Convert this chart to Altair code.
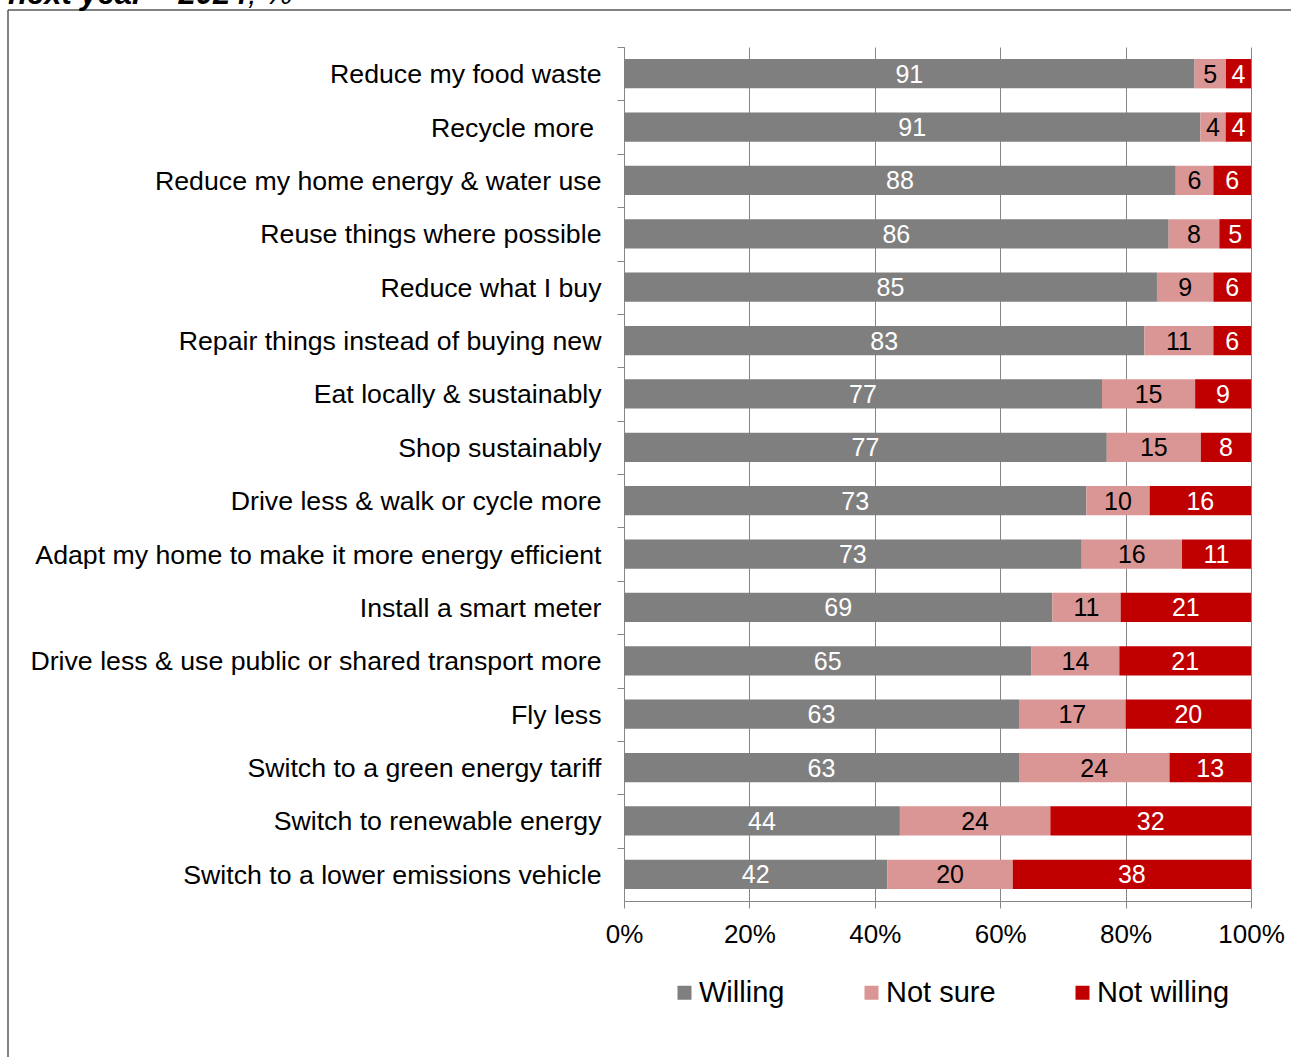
import altair as alt
import pandas as pd

categories = [
    "Reduce my food waste",
    "Recycle more\u00a0\u200b",
    "Reduce my home energy & water use",
    "Reuse things where possible",
    "Reduce what I buy",
    "Repair things instead of buying new",
    "Eat locally & sustainably",
    "Shop sustainably",
    "Drive less & walk or cycle more",
    "Adapt my home to make it more energy efficient",
    "Install a smart meter",
    "Drive less & use public or shared transport more",
    "Fly less",
    "Switch to a green energy tariff",
    "Switch to renewable energy",
    "Switch to a lower emissions vehicle",
]
willing = [91, 91, 88, 86, 85, 83, 77, 77, 73, 73, 69, 65, 63, 63, 44, 42]
not_sure = [5, 4, 6, 8, 9, 11, 15, 15, 10, 16, 11, 14, 17, 24, 24, 20]
not_willing = [4, 4, 6, 5, 6, 6, 9, 8, 16, 11, 21, 21, 20, 13, 32, 38]
series = ["Willing", "Not sure", "Not willing"]
colors = ["#7F7F7F", "#D99694", "#C00000"]
x_ticks = [0, 0.2, 0.4, 0.6, 0.8, 1.0]
title_main = "next year \u2013 2024"
title_tail = ", %"

FONT = "Liberation Sans"
GRID = "#868686"

rows = []
for i, c in enumerate(categories):
    for j, vals in enumerate([willing, not_sure, not_willing]):
        rows.append({"category": c, "series": series[j], "value": vals[i], "order": j})
df = pd.DataFrame(rows)

base = alt.Chart(df).transform_stack(
    stack="value",
    groupby=["category"],
    as_=["x0", "x1"],
    offset="normalize",
    sort=[alt.SortField("order", order="ascending")],
).transform_calculate(mid="(datum.x0 + datum.x1) / 2")

y_scale = alt.Scale(paddingInner=0.45, paddingOuter=0.225)
x_scale = alt.Scale(domain=[0, 1], nice=False)

y_axis = alt.Axis(
    title=None, labelFontSize=26.7, labelColor="black", labelFont=FONT,
    labelLimit=800, labelPadding=16, tickSize=7, tickColor=GRID, tickWidth=1,
    domainColor=GRID, domainWidth=1, grid=False, bandPosition=0,
    tickOffset=-12, labelOffset=13,
)
x_axis = alt.Axis(
    title=None, format=".0%", values=x_ticks, labelFontSize=26, labelColor="black",
    labelFont=FONT, labelFlush=False, labelOverlap=False, tickSize=7,
    tickColor=GRID, tickWidth=1, domainColor=GRID, domainWidth=1,
    grid=True, gridColor=GRID, gridWidth=1, labelPadding=13,
)

bars = base.mark_bar().encode(
    y=alt.Y("category:N", sort=categories, scale=y_scale, axis=y_axis, title=None),
    x=alt.X("x0:Q", scale=x_scale, axis=x_axis, title=None),
    x2="x1:Q",
    color=alt.Color(
        "series:N",
        scale=alt.Scale(domain=series, range=colors),
        legend=alt.Legend(
            title=None, orient="none", legendX=46, legendY=931,
            direction="horizontal", symbolType="square", symbolSize=196,
            symbolStrokeWidth=0, labelFontSize=29, labelFont=FONT,
            labelColor="black", labelOffset=0, columnPadding=72, padding=0,
        ),
    ),
)

labels = base.mark_text(fontSize=25, font=FONT, baseline="middle", align="center", dy=1).encode(
    y=alt.Y("category:N", sort=categories, scale=y_scale, axis=y_axis, title=None),
    x=alt.X("mid:Q", scale=x_scale, axis=x_axis, title=None),
    text=alt.Text("value:Q"),
    color=alt.condition(alt.datum.series == "Not sure", alt.value("black"), alt.value("white")),
)

one = pd.DataFrame({"t": [title_main], "u": [title_tail]})
border_left = alt.Chart(one).mark_rule(color="#5a5a5a", strokeWidth=1.5).encode(
    x=alt.value(-616), y=alt.value(-37), y2=alt.value(1100)
)
border_top = alt.Chart(one).mark_rule(color="#5a5a5a", strokeWidth=1.5).encode(
    x=alt.value(-616), x2=alt.value(700), y=alt.value(-37)
)
title1 = alt.Chart(one).mark_text(
    align="left", baseline="alphabetic", fontSize=31, fontWeight="bold",
    fontStyle="italic", font=FONT, color="black"
).encode(x=alt.value(8 - 624), y=alt.value(4 - 47), text="t:N")
title2 = alt.Chart(one).mark_text(
    align="left", baseline="alphabetic", fontSize=31, fontStyle="italic",
    font=FONT, color="black"
).encode(x=alt.value(248 - 624), y=alt.value(4 - 47), text="u:N")

chart = alt.layer(bars, labels, border_left, border_top, title1, title2).properties(
    width=627,
    height=854,
    padding={"left": 624, "top": 47, "right": 40, "bottom": 156},
    autosize=alt.AutoSizeParams(type="none"),
    background="white",
).configure_view(stroke=None)

chart.save("out.html", embed_options={"renderer": "svg", "actions": False})
